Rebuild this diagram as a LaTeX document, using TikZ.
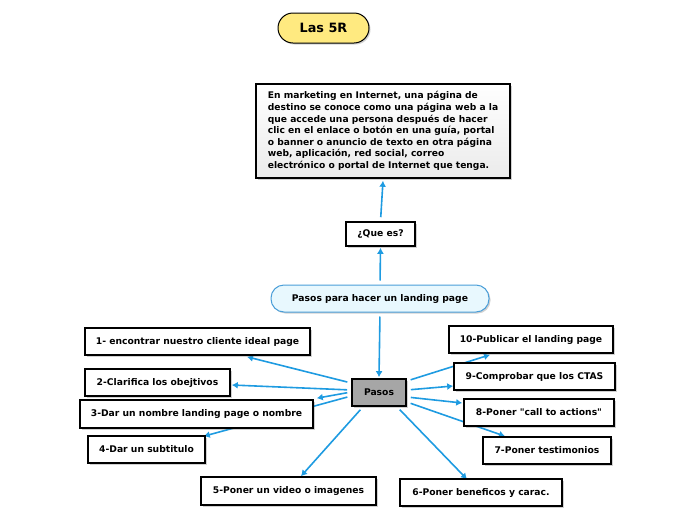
\documentclass[tikz,border=0pt]{standalone}
\usepackage{fontspec}
\setmainfont{DejaVu Sans}
\usetikzlibrary{arrows.meta,shadows,backgrounds}

\definecolor{arrowblue}{RGB}{30,155,225}
\definecolor{titleyellow}{RGB}{255,234,128}
\definecolor{stepsfill}{RGB}{232,248,254}
\definecolor{stepsline}{RGB}{74,158,216}
\definecolor{pasosgray}{RGB}{166,166,166}

\begin{document}
\begin{tikzpicture}[x=1pt,y=-1pt]
        \tikzset{box/.style = {shape=rectangle,draw=black,line width=1.6pt,fill=white,inner sep=0pt,
                 minimum height=27pt,font=\bfseries\fontsize{9.2}{11}\selectfont,
                 drop shadow={shadow xshift=1.5pt,shadow yshift=-1.5pt,opacity=0.3,fill=black!60}}}
        \tikzset{conn/.style = {-{Latex[length=6pt,width=7pt]},line width=1.6pt,draw=arrowblue,shorten <=4pt}}

        \useasboundingbox (0,0) rectangle (696,520);

        % nodes
        \node[box,rounded corners=15pt,minimum width=91pt,minimum height=30pt,line width=1pt,
              fill=titleyellow,font=\bfseries\fontsize{12.8}{14}\selectfont] (las5r) at (323.5,28) {Las 5R};
        \node[box,minimum width=254pt,minimum height=94pt,top color=white,bottom color=black!8,
              align=left,font=\bfseries\fontsize{9.15}{11.6}\selectfont] (def) at (383,131)
              {En marketing en Internet, una página de\\
               destino se conoce como una página web a la\\
               que accede una persona después de hacer\\
               clic en el enlace o botón en una guía, portal\\
               o banner o anuncio de texto en otra página\\
               web, aplicación, red social, correo\\
               electrónico o portal de Internet que tenga.};
        \node[box,minimum width=69pt,minimum height=24pt] (quees) at (380.5,234) {¿Que es?};
        \node[box,rounded corners=13pt,minimum width=218pt,line width=1pt,draw=stepsline,
              fill=stepsfill] (hacer) at (380,298.5) {Pasos para hacer un landing page};
        \node[box,minimum width=54pt,fill=pasosgray] (pasos) at (379,392.5) {Pasos};

        \node[box,minimum width=225pt] (p1) at (197.5,341.5) {1- encontrar nuestro cliente ideal page};
        \node[box,minimum width=145pt] (p2) at (157.5,382.5) {2-Clarifica los obejtivos};
        \node[box,minimum width=233pt,minimum height=28pt] (p3) at (196.5,414) {3-Dar un nombre landing page o nombre};
        \node[box,minimum width=117pt] (p4) at (146.5,449.5) {4-Dar un subtitulo};
        \node[box,minimum width=175pt,minimum height=28pt] (p5) at (288.5,491) {5-Poner un video o imagenes};
        \node[box,minimum width=162pt] (p6) at (481,492.5) {6-Poner beneficos y carac.};
        \node[box,minimum width=128pt] (p7) at (547,450.5) {7-Poner testimonios};
        \node[box,minimum width=150pt] (p8) at (539,412.5) {8-Poner \textquotedbl call to actions\textquotedbl};
        \node[box,minimum width=161pt] (p9) at (534.5,376.5) {9-Comprobar que los CTAS};
        \node[box,minimum width=164pt] (p10) at (531,339.5) {10-Publicar el landing page};

        %edges
        \begin{pgfonlayer}{background}
        \draw[conn] (quees.north) -- ([yshift=-2pt]def.south);
        \draw[conn] (hacer.north) -- ([yshift=-1pt]quees.south);
        \draw[conn] (hacer.south) -- ([yshift=1pt]pasos.north);

        \draw[conn] ([yshift=9.5pt]pasos.west) -- ([xshift=49.5pt,yshift=-1pt]p1.south);
        \draw[conn] ([yshift=2.5pt]pasos.west) -- ([xshift=1pt,yshift=-2.5pt]p2.east);
        \draw[conn] ([yshift=0.5pt]pasos.west) -- ([xshift=3pt,yshift=1pt]p3.north east);
        \draw[conn] ([yshift=-3.5pt]pasos.west) -- ([xshift=-2pt,yshift=-1pt]p4.north east);
        \draw[conn] ([xshift=-16pt]pasos.south) -- ([xshift=12.5pt]p5.north);
        \draw[conn] ([xshift=18pt]pasos.south) -- ([xshift=-14pt,yshift=-1pt]p6.north);
        \draw[conn] ([yshift=-9.5pt]pasos.east) -- ([xshift=-42pt]p7.north);
        \draw[conn] ([yshift=-4.5pt]pasos.east) -- ([xshift=-1pt,yshift=9.5pt]p8.west);
        \draw[conn] ([yshift=2.5pt]pasos.east) -- ([yshift=-9.5pt]p9.west);
        \draw[conn] ([yshift=11.5pt]pasos.east) -- ([xshift=-41pt,yshift=-1pt]p10.south);
        \end{pgfonlayer}

    \end{tikzpicture}
\end{document}
